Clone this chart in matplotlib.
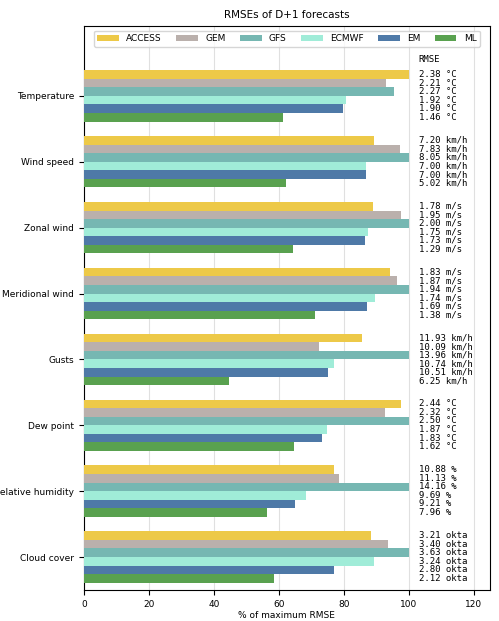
import matplotlib.pyplot as plt
import numpy as np

categories = ['Temperature', 'Wind speed', 'Zonal wind', 'Meridional wind',
              'Gusts', 'Dew point', 'Relative humidity', 'Cloud cover']
units = ['°C', 'km/h', 'm/s', 'm/s', 'km/h', '°C', '%', 'okta']
models = ['ACCESS', 'GEM', 'GFS', 'ECMWF', 'EM', 'ML']
colors = ['#edc948', '#bab0ac', '#76b7b2', '#a0ecd8', '#4e79a7', '#59a14f']

rmse = {
    'ACCESS': [2.38, 7.20, 1.78, 1.83, 11.93, 2.44, 10.88, 3.21],
    'GEM':    [2.21, 7.83, 1.95, 1.87, 10.09, 2.32, 11.13, 3.40],
    'GFS':    [2.27, 8.05, 2.00, 1.94, 13.96, 2.50, 14.16, 3.63],
    'ECMWF':  [1.92, 7.00, 1.75, 1.74, 10.74, 1.87, 9.69, 3.24],
    'EM':     [1.90, 7.00, 1.73, 1.69, 10.51, 1.83, 9.21, 2.80],
    'ML':     [1.46, 5.02, 1.29, 1.38, 6.25, 1.62, 7.96, 2.12],
}

data = np.array([rmse[m] for m in models])
pct = data / data.max(axis=0) * 100

fig, ax = plt.subplots(figsize=(4.99, 6.21), dpi=100)
fig.subplots_adjust(left=0.168, right=0.982, top=0.958, bottom=0.05)

fs = 6.5
h = 0.13
y = np.arange(len(categories))
for i, m in enumerate(models):
    yy = y + (i - 2.5) * h
    ax.barh(yy, pct[i], height=h, color=colors[i], label=m, zorder=3)
    for j in range(len(categories)):
        ax.text(103, yy[j], f'{data[i, j]:.2f} {units[j]}', va='center',
                ha='left', family='DejaVu Sans Mono', fontsize=fs)

ax.text(103, -0.55, 'RMSE', va='center', ha='left',
        family='DejaVu Sans Mono', fontsize=fs)
ax.set_yticks(y)
ax.set_yticklabels(categories, fontsize=fs)
ax.set_xlim(0, 125)
ax.set_ylim(7.5, -1.06)
ax.set_xticks([0, 20, 40, 60, 80, 100, 120])
ax.tick_params(axis='x', labelsize=fs)
ax.grid(axis='x', color='#e0e0e0', zorder=0)
ax.set_xlabel('% of maximum RMSE', fontsize=fs, labelpad=2)
ax.set_title('RMSEs of D+1 forecasts', fontsize=7.5)
ax.legend(loc='upper center', ncol=6, fontsize=fs, handlelength=2.4,
          columnspacing=1.6, bbox_to_anchor=(0.5, 1.0))

plt.savefig('out.png')
